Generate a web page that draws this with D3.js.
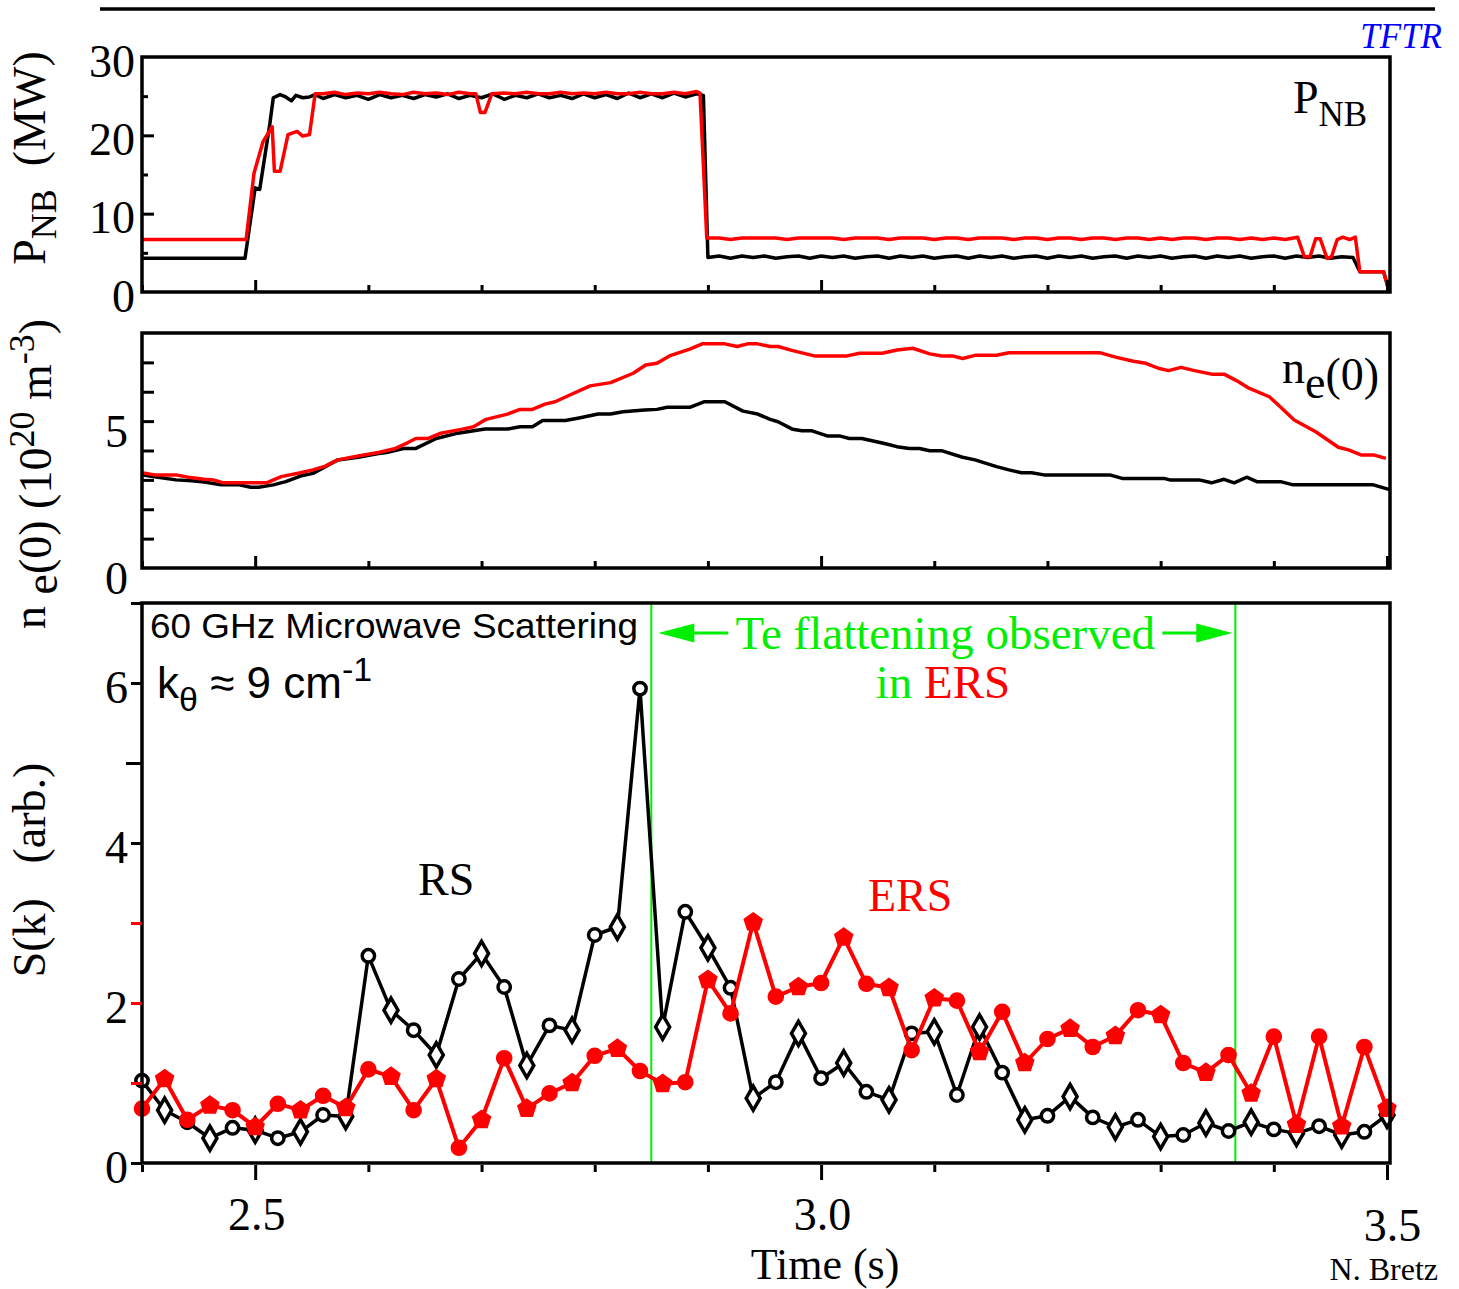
<!DOCTYPE html>
<html>
<head>
<meta charset="utf-8">
<script src="https://cdn.jsdelivr.net/npm/d3@7"></script>
<style>
  body { margin: 0; background: #fff; }
  svg { display: block; }
  text { white-space: pre; }
</style>
</head>
<body>
<svg id="chart" width="1459" height="1289"></svg>
<script>
// ---------- data ----------
// Neutral-beam power (MW) vs time (s): [t, P]
const pnbRS = [
  [2.400,4.3],[2.491,4.3],[2.500,13.3],[2.504,13.1],[2.513,21.5],[2.516,24.8],[2.522,25.2],[2.527,24.9],
  [2.532,24.4],[2.536,25.1],[2.542,24.8],[2.548,24.9],[2.553,25.2],
  [2.56,24.7],[2.57,25.2],[2.58,24.8],[2.59,25.1],[2.60,24.6],[2.61,25.2],[2.62,24.8],[2.63,25.1],
  [2.64,24.7],[2.65,25.2],[2.66,24.9],[2.67,25.3],[2.68,24.7],[2.69,25.1],[2.70,24.8],[2.71,25.3],
  [2.72,24.6],[2.73,25.1],[2.74,24.8],[2.75,25.3],[2.76,24.8],[2.77,25.1],[2.78,24.7],[2.79,25.3],
  [2.80,24.8],[2.81,25.2],[2.82,24.7],[2.83,25.4],[2.84,24.8],[2.85,25.3],[2.86,24.8],[2.87,25.4],
  [2.88,24.9],[2.89,25.3],[2.896,25.1],[2.900,4.4],
  [2.91,4.6],[2.92,4.3],[2.93,4.6],[2.94,4.4],[2.95,4.6],[2.96,4.3],[2.97,4.5],[2.98,4.6],[2.99,4.3],
  [3.00,4.6],[3.01,4.4],[3.02,4.6],[3.03,4.3],[3.04,4.5],[3.05,4.6],[3.06,4.3],[3.07,4.6],[3.08,4.4],
  [3.09,4.6],[3.10,4.3],[3.11,4.5],[3.12,4.6],[3.13,4.3],[3.14,4.6],[3.15,4.4],[3.16,4.6],[3.17,4.3],
  [3.18,4.5],[3.19,4.6],[3.20,4.3],[3.21,4.6],[3.22,4.4],[3.23,4.6],[3.24,4.3],[3.25,4.5],[3.26,4.6],
  [3.27,4.3],[3.28,4.6],[3.29,4.4],[3.30,4.6],[3.31,4.3],[3.32,4.5],[3.33,4.6],[3.34,4.3],[3.35,4.6],
  [3.36,4.4],[3.37,4.6],[3.38,4.3],[3.39,4.5],[3.40,4.6],[3.41,4.3],[3.42,4.6],[3.43,4.4],[3.44,4.6],
  [3.45,4.3],[3.46,4.5],[3.470,4.4],[3.476,2.6],[3.497,2.6],[3.502,0]
];
const pnbERS = [
  [2.400,6.7],[2.492,6.7],[2.499,15.2],[2.507,19.2],[2.515,21.1],[2.517,15.4],[2.522,15.4],[2.529,20.1],
  [2.537,20.5],[2.542,19.9],[2.548,20.1],[2.553,25.3],
  [2.56,25.3],[2.57,25.5],[2.58,25.2],[2.59,25.4],[2.60,25.3],[2.61,25.5],[2.62,25.3],[2.63,25.2],
  [2.64,25.5],[2.65,25.3],[2.66,25.4],[2.67,25.2],[2.68,25.5],[2.69,25.3],[2.695,25.3],[2.699,22.9],
  [2.703,22.9],[2.709,25.3],[2.72,25.4],[2.73,25.3],[2.74,25.5],[2.75,25.3],[2.76,25.3],[2.77,25.5],
  [2.78,25.3],[2.79,25.4],[2.80,25.3],[2.81,25.5],[2.82,25.3],[2.83,25.3],[2.84,25.5],[2.85,25.3],
  [2.86,25.3],[2.87,25.5],[2.88,25.3],[2.890,25.6],[2.893,25.4],[2.899,6.9],
  [2.91,6.9],[2.92,6.7],[2.93,6.9],[2.94,6.9],[2.95,6.9],[2.96,6.9],[2.97,6.7],[2.98,6.9],[2.99,6.9],
  [3.00,6.9],[3.01,6.9],[3.02,6.7],[3.03,6.9],[3.04,6.9],[3.05,6.9],[3.06,6.7],[3.07,6.9],[3.08,6.9],
  [3.09,6.9],[3.10,6.7],[3.11,6.9],[3.12,6.9],[3.13,6.7],[3.14,6.9],[3.15,6.9],[3.16,6.9],[3.17,6.7],
  [3.18,6.9],[3.19,6.9],[3.20,6.7],[3.21,6.9],[3.22,6.9],[3.23,6.7],[3.24,6.9],[3.25,6.9],[3.26,6.7],
  [3.27,6.9],[3.28,6.9],[3.29,6.7],[3.30,6.9],[3.31,6.7],[3.32,6.9],[3.33,6.9],[3.34,6.7],[3.35,6.9],
  [3.36,6.9],[3.37,6.7],[3.38,6.9],[3.39,6.7],[3.40,6.9],[3.41,6.7],[3.421,7.0],[3.427,4.5],[3.432,4.5],
  [3.437,6.8],[3.441,6.8],[3.447,4.3],[3.451,4.5],[3.456,6.7],[3.461,7.0],[3.467,6.7],[3.472,7.0],
  [3.476,2.6],[3.497,2.6],[3.502,0]
];

// Central electron density n_e(0) (10^20 m^-3): [t, n]
const neRS = [
  [2.400,3.17],[2.411,3.11],[2.430,3.00],[2.444,2.97],[2.455,2.93],[2.470,2.83],[2.486,2.83],[2.496,2.75],
  [2.503,2.75],[2.516,2.83],[2.527,2.94],[2.540,3.13],[2.551,3.22],[2.562,3.45],[2.573,3.68],[2.591,3.77],
  [2.609,3.90],[2.616,3.93],[2.631,4.07],[2.642,4.07],[2.660,4.41],[2.679,4.59],[2.703,4.73],[2.723,4.73],
  [2.734,4.81],[2.745,4.81],[2.754,5.02],[2.774,5.02],[2.785,5.10],[2.803,5.24],[2.814,5.24],[2.825,5.32],
  [2.844,5.38],[2.855,5.40],[2.864,5.47],[2.884,5.47],[2.897,5.66],[2.915,5.66],[2.931,5.34],[2.944,5.24],
  [2.955,5.06],[2.962,4.98],[2.975,4.72],[2.983,4.67],[2.992,4.67],[3.006,4.49],[3.017,4.49],[3.025,4.41],
  [3.036,4.41],[3.056,4.24],[3.067,4.13],[3.078,4.07],[3.087,4.07],[3.096,3.99],[3.107,3.99],[3.125,3.77],
  [3.136,3.68],[3.155,3.45],[3.166,3.34],[3.177,3.24],[3.186,3.24],[3.197,3.17],[3.255,3.17],[3.266,3.05],
  [3.303,3.05],[3.308,3.00],[3.334,3.00],[3.345,2.90],[3.356,3.02],[3.365,2.90],[3.376,3.09],[3.385,2.94],
  [3.406,2.94],[3.417,2.83],[3.488,2.83],[3.503,2.66]
];
const neERS = [
  [2.400,3.24],[2.411,3.17],[2.430,3.17],[2.441,3.09],[2.455,3.02],[2.463,3.00],[2.472,2.90],[2.510,2.90],
  [2.523,3.11],[2.540,3.24],[2.551,3.34],[2.562,3.47],[2.573,3.68],[2.591,3.81],[2.609,3.93],[2.624,4.07],
  [2.635,4.27],[2.642,4.41],[2.653,4.41],[2.664,4.59],[2.682,4.72],[2.693,4.81],[2.704,5.06],[2.723,5.24],
  [2.734,5.40],[2.745,5.40],[2.756,5.58],[2.765,5.66],[2.778,5.89],[2.796,6.20],[2.814,6.31],[2.834,6.63],
  [2.845,6.91],[2.855,6.97],[2.866,7.22],[2.884,7.45],[2.895,7.63],[2.915,7.63],[2.926,7.54],[2.935,7.63],
  [2.944,7.63],[2.955,7.54],[2.962,7.54],[2.975,7.40],[2.994,7.22],[3.023,7.22],[3.034,7.31],[3.054,7.31],
  [3.067,7.42],[3.081,7.48],[3.096,7.29],[3.107,7.22],[3.116,7.22],[3.125,7.13],[3.136,7.24],[3.155,7.24],
  [3.166,7.33],[3.246,7.33],[3.261,7.17],[3.276,7.04],[3.287,6.97],[3.298,6.80],[3.307,6.72],[3.318,6.83],
  [3.330,6.72],[3.345,6.60],[3.356,6.60],[3.367,6.38],[3.378,6.12],[3.396,5.83],[3.404,5.55],[3.418,5.04],
  [3.437,4.64],[3.457,4.11],[3.466,4.02],[3.477,3.85],[3.488,3.85],[3.499,3.73]
];

// Scattered power S(k) (arb.) sampled every 20 ms
const skTimes = [
  2.40,2.42,2.44,2.46,2.48,2.50,2.52,2.54,2.56,2.58,
  2.60,2.62,2.64,2.66,2.68,2.70,2.72,2.74,2.76,2.78,
  2.80,2.82,2.84,2.86,2.88,2.90,2.92,2.94,2.96,2.98,
  3.00,3.02,3.04,3.06,3.08,3.10,3.12,3.14,3.16,3.18,
  3.20,3.22,3.24,3.26,3.28,3.30,3.32,3.34,3.36,3.38,
  3.40,3.42,3.44,3.46,3.48,3.50
];
const skRS = [
  1.03,0.66,0.51,0.31,0.44,0.41,0.31,0.39,0.60,0.58,
  2.59,1.91,1.66,1.35,2.30,2.62,2.20,1.22,1.72,1.66,
  2.85,2.95,5.93,1.70,3.14,2.69,2.19,0.81,1.01,1.62,
  1.06,1.25,0.89,0.79,1.62,1.64,0.85,1.70,1.13,0.54,
  0.59,0.83,0.57,0.45,0.54,0.33,0.35,0.50,0.40,0.51,
  0.42,0.37,0.46,0.35,0.39,0.60
];
const skERS = [
  0.68,1.05,0.54,0.72,0.66,0.45,0.74,0.66,0.84,0.69,
  1.17,1.08,0.66,1.05,0.19,0.54,1.31,0.68,0.87,1.00,
  1.34,1.43,1.15,0.99,1.01,2.29,1.87,3.01,2.08,2.20,
  2.25,2.82,2.24,2.19,1.41,2.06,2.03,1.39,1.89,1.25,
  1.55,1.68,1.45,1.59,1.91,1.85,1.25,1.13,1.35,0.87,
  1.58,0.48,1.58,0.46,1.45,0.68
];

// Window in which the electron temperature profile flattens (ERS)
const flatStart = 2.85, flatEnd = 3.366;

// Axis tick values
const timeMinor = [2.4,2.6,2.7,2.8,2.9,3.1,3.2,3.3,3.4];
const timeMajor = [2.5,3.0,3.5];
const pnbMajor = [10,20], pnbMinor = [5,15,25], pnbLabels = [0,10,20,30];
const neTicks = [1,2,3,4,5,6,7], neLabels = [0,5];
const skTicks = [0,1,2,3,4,5,6,7], skLabels = [0,2,4,6];

// ---------- layout ----------
const SERIF = "'Liberation Serif','Times New Roman',serif";
const SANS = "'Liberation Sans',Arial,sans-serif";
const RED = "#ff0000", GREEN = "#00ee00", BLUE = "#0000ff";

const svg = d3.select("#chart");
const x = d3.scaleLinear().domain([2.4, 3.5]).range([142, 1387]);
const yP = d3.scaleLinear().domain([0, 30]).range([292, 57]);
const yN = d3.scaleLinear().domain([0, 8]).range([568, 333]);
const yS = d3.scaleLinear().domain([0, 7]).range([1163, 603]);
const xRight = x(3.5) + 3;

// header rule and lab tag
svg.append("line").attr("x1", 100).attr("x2", 1435).attr("y1", 9).attr("y2", 9)
  .attr("stroke", "#000").attr("stroke-width", 3.5);
svg.append("text").attr("x", 1442).attr("y", 48).attr("text-anchor", "end")
  .attr("font-family", SERIF).attr("font-style", "italic").attr("font-size", 35)
  .attr("fill", BLUE).text("TFTR");

function styleAxis(g, color) {
  g.select(".domain").remove();
  g.selectAll(".tick line").attr("stroke", color || "#000").attr("stroke-width", 3);
  g.selectAll(".tick text").attr("font-family", SERIF).attr("fill", "#000");
}

function frame(yScale) {
  const top = yScale.range()[1], bot = yScale.range()[0];
  svg.append("rect").attr("x", x(2.4)).attr("y", top)
    .attr("width", xRight - x(2.4)).attr("height", bot - top)
    .attr("fill", "none").attr("stroke", "#000").attr("stroke-width", 3.5);
}

// inner ticks along the bottom edge (pointing up) for the upper panels
function innerTimeTicks(yScale) {
  const y0 = yScale.range()[0];
  svg.append("g").attr("transform", `translate(0,${y0})`)
    .call(d3.axisTop(x).tickValues(timeMinor).tickSize(7).tickFormat(""))
    .call(styleAxis);
  svg.append("g").attr("transform", `translate(0,${y0})`)
    .call(d3.axisTop(x).tickValues(timeMajor).tickSize(12).tickFormat(""))
    .call(styleAxis);
}

const line = (ys) => d3.line().x(d => x(d[0])).y(d => ys(d[1]));

// ---------- panel 1: P_NB ----------
svg.append("path").datum(pnbRS).attr("d", line(yP))
  .attr("fill", "none").attr("stroke", "#000").attr("stroke-width", 3.5).attr("stroke-linejoin", "round");
svg.append("path").datum(pnbERS).attr("d", line(yP))
  .attr("fill", "none").attr("stroke", RED).attr("stroke-width", 3.5).attr("stroke-linejoin", "round");
frame(yP);
innerTimeTicks(yP);
svg.append("g").attr("transform", `translate(${x(2.4)},0)`)
  .call(d3.axisRight(yP).tickValues(pnbMajor).tickSize(12).tickFormat("")).call(styleAxis);
svg.append("g").attr("transform", `translate(${x(2.4)},0)`)
  .call(d3.axisRight(yP).tickValues(pnbMinor).tickSize(6).tickFormat("")).call(styleAxis);
svg.append("g").attr("transform", `translate(${x(2.4)},0)`)
  .call(d3.axisLeft(yP).tickValues(pnbLabels).tickSize(0).tickPadding(7).tickFormat(d3.format("d")))
  .call(styleAxis)
  .call(g => g.selectAll(".tick text").attr("font-size", 46).attr("dy", "0.42em"));

const pLab = svg.append("text").attr("x", 1293).attr("y", 113)
  .attr("font-family", SERIF).attr("font-size", 46);
pLab.append("tspan").text("P");
pLab.append("tspan").attr("font-size", 35).attr("dy", 13).text("NB");

// ---------- panel 2: n_e(0) ----------
svg.append("path").datum(neRS).attr("d", line(yN))
  .attr("fill", "none").attr("stroke", "#000").attr("stroke-width", 3.5).attr("stroke-linejoin", "round");
svg.append("path").datum(neERS).attr("d", line(yN))
  .attr("fill", "none").attr("stroke", RED).attr("stroke-width", 3.5).attr("stroke-linejoin", "round");
frame(yN);
innerTimeTicks(yN);
svg.append("g").attr("transform", `translate(${x(2.4)},0)`)
  .call(d3.axisRight(yN).tickValues(neTicks).tickSize(12).tickFormat("")).call(styleAxis);
svg.append("g").attr("transform", `translate(${x(2.4)},0)`)
  .call(d3.axisLeft(yN).tickValues(neLabels).tickSize(0).tickPadding(14).tickFormat(d3.format("d")))
  .call(styleAxis)
  .call(g => g.selectAll(".tick text").attr("font-size", 46).attr("dy", "0.55em"));

const nLab = svg.append("text").attr("x", 1282).attr("y", 383)
  .attr("font-family", SERIF).attr("font-size", 46);
nLab.append("tspan").text("n");
nLab.append("tspan").attr("dy", 15).text("e");
nLab.append("tspan").attr("dy", -8).text("(0)");

// ---------- panel 3: S(k) ----------
const gx0 = x(flatStart), gx1 = x(flatEnd);
svg.append("line").attr("x1", gx0).attr("x2", gx0).attr("y1", yS(7)).attr("y2", yS(0))
  .attr("stroke", GREEN).attr("stroke-width", 2);
svg.append("line").attr("x1", gx1).attr("x2", gx1).attr("y1", yS(7)).attr("y2", yS(0))
  .attr("stroke", GREEN).attr("stroke-width", 2);

const skRSpts = skTimes.map((t, i) => [t, skRS[i]]);
const skERSpts = skTimes.map((t, i) => [t, skERS[i]]);

svg.append("path").datum(skRSpts).attr("d", line(yS))
  .attr("fill", "none").attr("stroke", "#000").attr("stroke-width", 3.5).attr("stroke-linejoin", "round");
svg.append("g").selectAll("path").data(skRSpts).join("path")
  .attr("transform", d => `translate(${x(d[0])},${yS(d[1])})`)
  .attr("d", (d, i) => d3.symbol().type(i % 2 ? d3.symbolDiamond : d3.symbolCircle).size(i % 2 ? 170 : 120)())
  .attr("fill", "#fff").attr("stroke", "#000").attr("stroke-width", 3.5);

// filled pentagon marker for the ERS points
const symbolPentagon = {
  draw(ctx, size) {
    const r = Math.sqrt(size / 2.378);
    for (let k = 0; k < 5; k++) {
      const a = -Math.PI / 2 + k * 2 * Math.PI / 5;
      const px = r * Math.cos(a), py = r * Math.sin(a);
      if (k === 0) ctx.moveTo(px, py); else ctx.lineTo(px, py);
    }
    ctx.closePath();
  }
};
svg.append("path").datum(skERSpts).attr("d", line(yS))
  .attr("fill", "none").attr("stroke", RED).attr("stroke-width", 4).attr("stroke-linejoin", "round");
svg.append("g").selectAll("path").data(skERSpts).join("path")
  .attr("transform", d => `translate(${x(d[0])},${yS(d[1])})`)
  .attr("d", (d, i) => d3.symbol().type(i % 2 ? symbolPentagon : d3.symbolCircle).size(i % 2 ? 210 : 180)())
  .attr("fill", RED).attr("stroke", RED).attr("stroke-width", 1.5);

frame(yS);
// time axis below the bottom panel
svg.append("g").attr("transform", `translate(0,${yS(0) + 2})`)
  .call(d3.axisBottom(x).tickValues(timeMinor).tickSize(7).tickFormat("")).call(styleAxis);
svg.append("g").attr("transform", `translate(0,${yS(0) + 2})`)
  .call(d3.axisBottom(x).tickValues(timeMajor).tickSize(15).tickFormat("")).call(styleAxis);
svg.append("g").attr("transform", `translate(0,${yS(0) + 2})`)
  .call(d3.axisBottom(x).tickValues(timeMajor).tickSize(0).tickPadding(32).tickFormat(d3.format(".1f")))
  .call(styleAxis)
  .call(g => g.selectAll(".tick text").attr("font-size", 46).attr("dx", (d) => d === 3.5 ? 5 : 1)
    .attr("dy", d => d === 3.5 ? "0.95em" : "0.71em"));

// S(k) axis ticks (outside, left); 1-3 drawn in red
svg.append("g").attr("transform", `translate(${x(2.4)},0)`)
  .call(d3.axisLeft(yS).tickValues(skTicks).tickSize(11).tickFormat("")).call(styleAxis)
  .call(g => g.selectAll(".tick line")
    .attr("stroke", d => (d >= 1 && d <= 3) ? RED : "#000")
    .attr("x2", d => d === 5 ? -16 : -11));
svg.append("g").attr("transform", `translate(${x(2.4)},0)`)
  .call(d3.axisLeft(yS).tickValues(skLabels).tickSize(0).tickPadding(14).tickFormat(d3.format("d")))
  .call(styleAxis)
  .call(g => g.selectAll(".tick text").attr("font-size", 46).attr("dy", "0.42em"));

// annotations
svg.append("text").attr("x", 150).attr("y", 638).attr("font-family", SANS).attr("font-size", 35)
  .attr("textLength", 488).attr("lengthAdjust", "spacingAndGlyphs").text("60 GHz Microwave Scattering");
const kLab = svg.append("text").attr("x", 157).attr("y", 698).attr("font-family", SANS).attr("font-size", 44);
kLab.append("tspan").text("k");
kLab.append("tspan").attr("font-size", 34).attr("dy", 13).text("θ");
kLab.append("tspan").attr("dy", -13).text(" ≈ 9 cm");
kLab.append("tspan").attr("font-size", 34).attr("dy", -17).text("-1");

svg.append("text").attr("x", 418).attr("y", 895).attr("font-family", SERIF).attr("font-size", 46).text("RS");
svg.append("text").attr("x", 868).attr("y", 911).attr("font-family", SERIF).attr("font-size", 46)
  .attr("fill", RED).text("ERS");

// arrowed span label for the flattening window
const ay = 633;
const aL = gx0 + 7, aR = gx1 - 3;
svg.append("line").attr("x1", aL + 30).attr("x2", aL + 70).attr("y1", ay).attr("y2", ay)
  .attr("stroke", GREEN).attr("stroke-width", 3);
svg.append("path").attr("d", `M${aL},${ay} L${aL + 36},${ay - 9.5} L${aL + 36},${ay + 9.5} Z`).attr("fill", GREEN);
svg.append("line").attr("x1", aR - 70).attr("x2", aR - 30).attr("y1", ay).attr("y2", ay)
  .attr("stroke", GREEN).attr("stroke-width", 3);
svg.append("path").attr("d", `M${aR},${ay} L${aR - 36},${ay - 9.5} L${aR - 36},${ay + 9.5} Z`).attr("fill", GREEN);
svg.append("text").attr("x", (aL + aR) / 2).attr("y", 649).attr("text-anchor", "middle")
  .attr("font-family", SERIF).attr("font-size", 47).attr("fill", GREEN).text("Te flattening observed");
const inErs = svg.append("text").attr("x", 943).attr("y", 698).attr("text-anchor", "middle")
  .attr("font-family", SERIF).attr("font-size", 47);
inErs.append("tspan").attr("fill", GREEN).text("in ");
inErs.append("tspan").attr("fill", RED).text("ERS");

// axis titles
svg.append("text").attr("x", 825).attr("y", 1279).attr("text-anchor", "middle")
  .attr("font-family", SERIF).attr("font-size", 44).text("Time (s)");
svg.append("text").attr("x", 1438).attr("y", 1280).attr("text-anchor", "end")
  .attr("font-family", SERIF).attr("font-size", 32).text("N. Bretz");

function yTitle(cy, parts) {
  const t = svg.append("text").attr("transform", `translate(45,${cy}) rotate(-90)`)
    .attr("text-anchor", "middle").attr("font-family", SERIF).attr("font-size", 46);
  parts.forEach(p => {
    const s = t.append("tspan").text(p.s);
    if (p.size) s.attr("font-size", p.size);
    if (p.dy) s.attr("dy", p.dy);
  });
}
yTitle(158, [{s: "P"}, {s: "NB", size: 36, dy: 11}, {s: "  (MW)", dy: -11}]);
yTitle(474, [{s: "n "}, {s: "e", dy: 12}, {s: "(0) (10", dy: -6}, {s: "20", size: 36, dy: -17},
             {s: " m", dy: 17}, {s: "-3", size: 36, dy: -17}, {s: ")", dy: 17}]);
yTitle(870, [{s: "S(k)   (arb.)"}]);
</script>
</body>
</html>
